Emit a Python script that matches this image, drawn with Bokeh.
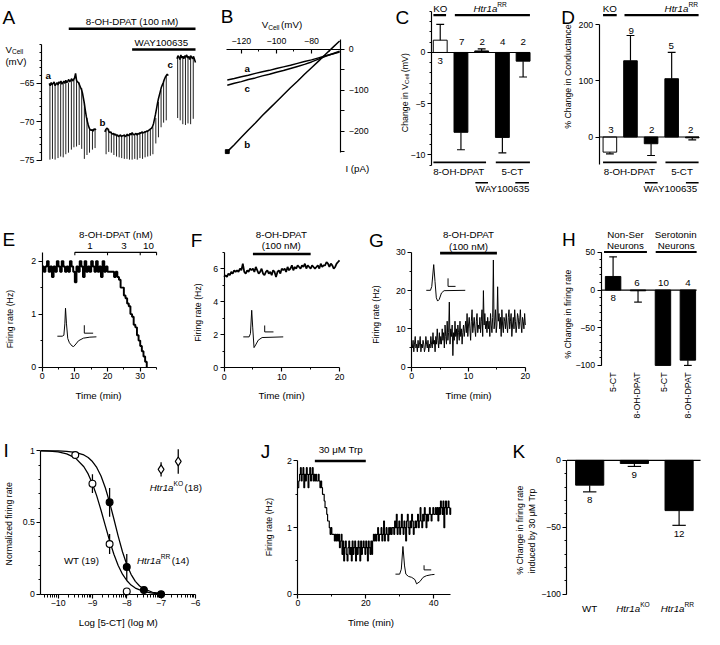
import numpy as np
from math import pi, sin, cos, log10
from bokeh.plotting import figure
from bokeh.models import Range1d, LinearAxis, FixedTicker, Grid
from bokeh.core.properties import value
from bokeh.embed import file_html
from bokeh.resources import INLINE

S = 0.975
W, H = 702, 629
XMAX, YMAX = W / S, H / S
FONT = "Liberation Sans"

# ======================= DATA =======================
# A: membrane potential (mV), one sample per time unit
A_v1 = [-65.0, -65.3, -64.9, -65.2, -65.0, -64.8, -65.3, -65.1, -64.9, -65.2,
        -64.8, -65.0, -64.7, -65.1, -64.9, -64.7, -65.0, -64.6, -64.9, -64.7,
        -64.5, -64.8, -64.6, -64.4, -64.7, -64.5, -64.3, -63.7, -64.6, -64.8,
        -64.9, -65.2, -65.5, -65.8, -66.2, -66.9, -67.6, -68.5, -69.3, -69.9,
        -70.4, -70.8, -71.0, -71.1, -71.0, -71.2, -70.9, -71.0, -70.9]
A_t1_start = 0
A_v2 = [-71.3, -71.0, -70.8, -70.9, -71.2, -71.4, -71.3, -71.5, -71.6, -71.5,
        -71.7, -71.6, -71.8, -71.7, -71.9, -71.8, -71.7, -71.9, -71.8, -71.8,
        -71.7, -71.9, -71.8, -71.6, -71.8, -71.7, -71.5, -71.7, -71.4, -71.6,
        -71.7, -71.6, -71.5, -71.7, -71.5, -71.6, -71.4, -71.5, -71.3, -71.4,
        -71.4, -71.3, -71.3, -71.2, -71.2, -71.1, -71.0, -70.9, -70.8, -70.6,
        -70.2, -69.6, -69.0, -68.3, -67.6, -67.0, -66.5, -66.0, -65.5, -65.2,
        -64.9, -64.5, -64.2, -64.0, -63.8, -64.0]
A_t2_start = 57
A_v3 = [-61.8, -61.4, -61.6, -61.9, -61.3, -61.7, -61.5, -61.8, -61.4, -61.6,
        -61.3, -61.7, -61.5, -61.9, -61.4, -61.6, -61.8, -61.5, -61.9, -62.3]
A_t3_start = 131
A_spike_t = [0.7, 3.3, 6, 9, 11.7, 14.3, 17, 19.7, 22.7, 25.3, 28, 30.7, 33.3, 36, 38.7, 41.3, 44.3, 47,
             58.3, 61, 63.7, 66.3, 69, 71.7, 74.3, 77, 79.7, 82.3, 85, 87.7, 90.3, 93, 95.7, 98.3, 101,
             103.7, 106.3, 109.3, 112, 114.7, 117.3, 120,
             131.7, 134.3, 137, 139.7, 142.3, 145, 147.7]
A_spike_top = [-65.1, -65.2, -65.2, -65.1, -65.0, -64.9, -64.8, -64.9, -64.6, -64.5, -64.7, -64.9, -65.6,
               -67.4, -69.5, -70.7, -71.0, -70.9,
               -71.0, -70.9, -71.3, -71.5, -71.7, -71.8, -71.8, -71.8, -71.8, -71.7, -71.6, -71.6, -71.6,
               -71.5, -71.4, -71.3, -71.2, -71.0, -70.7, -69.5, -67.4, -65.9, -64.8, -64.0,
               -61.6, -61.8, -61.6, -61.5, -61.6, -61.7, -61.6]
A_spike_bot = [-74.9, -74.8, -74.9, -74.7, -74.5, -74.6, -74.2, -74.0, -73.6, -73.3, -73.2, -73.0, -73.5,
               -74.8, -74.3, -74.0, -73.6, -73.4,
               -74.2, -73.9, -74.0, -74.3, -74.5, -74.6, -74.7, -74.8, -74.8, -74.9, -74.9, -74.8, -74.9,
               -74.7, -74.8, -74.6, -74.5, -74.4, -74.2, -72.8, -72.0, -70.7, -70.1, -69.8,
               -69.5, -69.8, -70.3, -70.4, -70.2, -70.3, -69.6]
A_dpat = [20, 150]
A_way = [85, 150]

# B: I-V relations (mV, pA)
B_v = [-128, -124, -120, -116, -112, -108, -104, -100, -96, -92, -88, -84, -80, -76, -72, -68, -64]
B_a = [-75, -71.5, -67, -63.5, -59, -55, -51.5, -47, -43, -39, -34.5, -30, -26, -21, -16, -11.5, -7]
B_c = [-88, -83, -79, -74, -70, -65, -61, -56, -52, -47, -42, -37, -31, -24, -17, -11, -5]
B_b = [-250, -233, -215, -197, -180, -162, -145, -128, -111, -94, -78, -61, -45, -29, -12, 4, 20]

# C: change in V_cell (mV)
C_n = ["3", "7", "2", "4", "2"]
C_val = [1.2, -7.8, 0.15, -8.3, -0.85]
C_err = [1.55, 1.7, 0.2, 1.5, 1.55]
C_fill = ["white", "black", "black", "black", "black"]

# D: % change in conductance
D_n = ["3", "9", "2", "5", "2"]
D_val = [-27, 136, -12, 104, -1.5]
D_err = [3, 45, 21, 47, 3.5]
D_fill = ["white", "black", "black", "black", "black"]

# E: firing rate (Hz), 0.5-min bins
E_rate = [1.9, 1.8, 1.9, 2.0, 1.8, 1.9, 1.7, 1.9, 1.8, 2.0,
          1.9, 1.8, 2.0, 1.9, 1.8, 1.9, 1.8, 2.0, 1.9, 1.8,
          1.6, 1.9, 1.8, 2.0, 1.9, 1.7, 2.0, 1.8, 1.9, 1.8,
          2.0, 1.9, 1.8, 2.0, 1.8, 1.9, 1.7, 2.0, 1.8, 1.9,
          1.8, 1.8, 1.8, 1.8, 1.7,
          1.8, 1.7, 1.65, 1.5, 1.5, 1.35, 1.3, 1.2, 1.15, 1.0,
          0.95, 0.8, 0.75, 0.6, 0.5, 0.4, 0.3, 0.2, 0.1, 0.0]
E_ins_t = [4.66, 6.15, 6.65, 6.95, 7.15, 7.45, 7.84, 8.34, 9.13, 9.63, 10.33, 11.12, 12.62, 14.6, 16.6]
E_ins_v = [0.583, 0.583, 0.601, 0.816, 1.111, 0.816, 0.540, 0.460, 0.399, 0.387, 0.436, 0.497, 0.546, 0.565, 0.571]
E_conc_edges = [10, 20, 30, 35]
E_conc = ["1", "3", "10"]

# F: firing rate (Hz), 0.25-min bins
F_rate = [5.5, 5.6, 5.5, 5.7, 5.6, 5.8, 5.7, 5.9, 5.8,
          5.9, 5.8, 6.0, 5.9, 6.3, 5.8, 5.7, 5.9, 5.8, 6.0, 5.9,
          6.0, 5.8, 6.1, 5.9, 5.7, 5.8, 6.0, 5.7, 5.6, 5.8, 5.9,
          5.7, 5.8, 5.6, 5.9, 5.8, 5.5, 5.8, 5.9, 5.7, 6.0, 5.9,
          6.0, 5.8, 6.1, 5.9, 6.0, 6.2, 5.9, 6.1, 6.0, 6.2, 6.1,
          6.0, 6.2, 6.1, 6.3, 6.0, 6.2, 6.1, 6.0, 6.2, 6.1, 6.0,
          6.1, 6.2, 6.0, 6.3, 6.1, 6.2, 6.2, 6.4, 6.3, 6.1, 6.3,
          6.2, 6.0, 6.1, 6.3, 6.4, 6.5]
F_ins_t = [3.33, 4.34, 4.57, 4.79, 4.96, 5.19, 5.47, 5.92, 6.59, 10.25]
F_ins_v = [1.87, 1.87, 2.07, 3.48, 2.46, 1.22, 1.38, 1.67, 1.83, 1.87]

# G: firing rate (Hz), 0.125-min bins
G_rate = [6, 5, 7, 4, 6, 8, 5, 6, 4, 7, 5, 6, 8, 4, 6, 5, 7, 6, 4, 5, 8, 6, 5, 7, 4, 6, 5, 8, 6,
          5, 9, 6, 7, 4, 8, 6, 10, 7, 5, 9, 6,
          8, 6, 10, 7, 9, 5, 11, 8, 6, 12, 7, 9, 17, 6, 10, 8, 11, 3, 9, 7,
          12, 8, 10, 6, 11, 9, 7, 12, 8, 10, 6, 9, 11, 8,
          10, 12, 9, 14, 8, 11, 13, 10, 7, 12, 15, 9, 11, 13, 10, 8, 12, 14, 9, 11,
          10, 13, 9, 12, 15, 8, 20, 11, 14, 10, 12, 9, 13, 10, 12, 8, 14, 11, 9, 13,
          28, 10, 12, 15, 9, 11,
          21, 12, 14, 10, 13, 8, 15, 11, 9, 13, 12, 10, 14, 11, 9, 13, 15, 10, 12, 14,
          8, 11, 13, 10, 15, 12, 9, 11, 14, 13, 10, 12, 15, 11, 9, 13, 12, 10, 14, 11]
G_ins_t = [2.57, 3.31, 3.54, 3.88, 4.11, 4.34, 4.57, 4.85, 5.25, 5.71, 9.43]
G_ins_v = [20.07, 20.07, 21.09, 26.79, 22.36, 18.11, 17.26, 17.69, 19.39, 19.98, 20.07]

# H: % change in firing rate
H_lab = ["5-CT", "8-OH-DPAT", "5-CT", "8-OH-DPAT"]
H_n = ["8", "6", "10", "4"]
H_val = [18, -1, -100, -93]
H_err = [26, 15, 0, 7]

# I: concentration-response
I_wt_x = [-9.5, -9.0, -8.5, -8.0]
I_wt_y = [0.97, 0.77, 0.35, 0.02]
I_wt_e = [0.0, 0.065, 0.07, 0.0]
I_rr_x = [-8.5, -8.0, -7.5, -7.0]
I_rr_y = [0.64, 0.19, 0.03, 0.0]
I_rr_e = [0.10, 0.09, 0.0, 0.0]
I_ko_x = [-7.0, -6.5]
I_ko_y = [0.87, 0.925]
I_ko_e = [0.05, 0.085]
I_wt_fit_x = [-10.5, -10.25, -10, -9.75, -9.5, -9.25, -9.125, -9, -8.875, -8.75, -8.625, -8.5,
              -8.375, -8.25, -8.125, -8, -7.875, -7.75, -7.5, -7.25, -7]
I_wt_fit_y = [0.998, 0.996, 0.991, 0.978, 0.950, 0.888, 0.838, 0.770, 0.685, 0.585, 0.478, 0.373,
              0.279, 0.201, 0.140, 0.096, 0.064, 0.043, 0.0185, 0.008, 0.003]
I_rr_fit_x = [-10.5, -10.25, -10, -9.75, -9.5, -9.25, -9.125, -9, -8.875, -8.75, -8.625, -8.5,
              -8.375, -8.25, -8.125, -8, -7.875, -7.75, -7.625, -7.5, -7.25, -7]
I_rr_fit_y = [1.0, 0.999, 0.998, 0.995, 0.988, 0.970, 0.952, 0.924, 0.883, 0.823, 0.742, 0.640,
              0.524, 0.405, 0.296, 0.207, 0.139, 0.090, 0.058, 0.037, 0.014, 0.006]

# J: firing rate (Hz), 0.25-min bins
J_rate = [1.6, 1.7, 1.8, 1.9, 1.7, 1.8, 1.9, 1.6, 1.8, 1.7, 1.9, 1.8, 1.6, 1.8, 1.9, 1.7, 1.8, 1.9, 1.7, 1.8,
          1.7, 1.8, 1.7, 1.7, 1.8, 1.7, 1.6, 1.7,
          1.6, 1.5, 1.5, 1.4, 1.3, 1.3, 1.2, 1.1, 1.1, 1.0, 0.9, 1.0, 0.9, 0.9, 0.9, 0.8,
          0.9, 0.8, 0.9, 0.8, 0.9, 0.7, 0.8, 0.9,
          0.6, 0.8, 0.5, 0.7, 0.8, 0.6, 0.5, 0.7, 0.8, 0.6, 0.7, 0.5, 0.8, 0.6, 0.7, 0.8, 0.5, 0.7,
          0.6, 0.8, 0.7, 0.5, 0.8, 0.6, 0.7, 0.8, 0.7, 0.6, 0.8, 0.7, 0.5, 0.8, 0.7, 0.6, 0.8, 0.6,
          0.8, 0.9, 0.8, 0.9, 0.8, 0.9, 1.0, 0.8, 0.9, 0.9, 1.0, 0.8, 0.9, 1.1, 0.8, 0.9, 1.0, 0.9,
          0.8, 1.0, 0.9, 1.0, 0.9, 1.0,
          1.0, 0.9, 1.1, 1.0, 1.2, 0.9, 1.0, 1.1, 0.9, 1.0, 1.2, 1.0, 0.9, 1.1, 1.0, 0.8, 1.1, 1.2,
          1.0, 0.9, 1.1, 1.0, 1.2, 1.1, 0.9, 1.0, 1.1, 1.0,
          1.1, 1.2, 1.0, 1.1, 1.3, 1.1, 1.0, 1.2, 1.1, 1.3, 1.2, 1.0, 1.2, 1.1, 1.2, 1.3, 1.2, 1.1,
          1.2, 1.3, 1.2, 1.2, 1.3, 1.2, 1.3, 1.1, 1.3, 1.2, 1.4, 1.3, 1.2, 1.4, 1.0, 1.3, 1.4, 1.2,
          1.3, 1.4, 1.3, 1.2, 1.3]
J_ins_t = [28.74, 29.98, 30.46, 30.94, 31.42, 31.8, 32.57, 33.52, 34.48, 34.96, 35.92, 36.88, 37.84, 39.27, 40.23]
J_ins_v = [0.302, 0.302, 0.376, 0.717, 0.425, 0.302, 0.268, 0.254, 0.220, 0.156, 0.190, 0.254, 0.278, 0.293, 0.298]
J_trp = [5, 20]

# K: % change in firing rate by 30 uM Trp
K_n = ["8", "9", "12"]
K_val = [-18.5, -2.3, -37.5]
K_err = [5, 2.2, 11]

# ======================= FIGURE =======================
p = figure(width=W, height=H, x_range=Range1d(0, XMAX), y_range=Range1d(YMAX, 0),
           output_backend="svg", toolbar_location=None, min_border=0,
           x_axis_location=None, y_axis_location=None, title=None)
p.center = [r for r in p.center if not isinstance(r, Grid)]
p.outline_line_color = None
p.background_fill_color = "white"
p.border_fill_color = "white"


def xr_(p0, v0, p1, v1):
    k = (v1 - v0) / (p1 - p0)
    return Range1d(start=v0 - p0 * k, end=v0 + (XMAX - p0) * k)


def yr_(p0, v0, p1, v1):
    k = (v1 - v0) / (p1 - p0)
    return Range1d(start=v0 + (YMAX - p0) * k, end=v0 - p0 * k)


XR, YR = {}, {}
for name, xa, ya in [
    ("A", (50, 0, 200, 150), (85, -65, 164, -75)),
    ("B", (247, -120, 319, -80), (50, 0, 134, -200)),
    ("C", (451, 1, 536, 5), (53.3, 0, 158.3, -10)),
    ("D", (625, 1, 709.5, 5), (140, 0, 25, 200)),
    ("E", (42.7, 0, 143.3, 30), (376, 0, 267.3, 2)),
    ("F", (229.3, 0, 347.7, 20), (376.7, 0, 275, 6)),
    ("G", (421.7, 0, 538.3, 20), (376, 0, 258.3, 30)),
    ("H", (628.3, 1, 705, 4), (258.3, 50, 374.3, -100)),
    ("I", (94.3, -9, 164.7, -7), (461.7, 1, 609, 0)),
    ("J", (305, 0, 444.3, 40), (609, 0, 472.3, 2)),
    ("K", (604.3, 1, 696, 3), (471.7, 0, 609, -100)),
]:
    XR[name] = xr_(*xa)
    YR[name] = yr_(*ya)
p.extra_x_ranges = XR
p.extra_y_ranges = YR


def rn(name):
    return dict(x_range_name=name, y_range_name=name)


def add_axis(name, side, loc, bounds, ticks, minor, tout=4, mout=2, tin=0, min_=0, standoff=2, fsize=9):
    ax = LinearAxis(x_range_name=name, y_range_name=name, fixed_location=loc, bounds=bounds,
                    ticker=FixedTicker(ticks=ticks, minor_ticks=minor))
    ax.axis_line_width = 1.2 * S
    ax.axis_line_color = "black"
    ax.major_tick_line_width = 1.2 * S
    ax.major_tick_line_color = "black"
    ax.minor_tick_line_width = 1.0 * S
    ax.minor_tick_line_color = "black"
    ax.major_tick_out = int(round(tout * S))
    ax.major_tick_in = int(round(tin * S))
    ax.minor_tick_out = int(round(mout * S))
    ax.minor_tick_in = int(round(min_ * S))
    ax.major_label_standoff = standoff
    ax.major_label_text_font = FONT
    ax.major_label_text_font_size = f"{fsize * S:.2f}px"
    ax.major_label_text_color = "black"
    p.add_layout(ax, side)
    return ax


AW = {' ': 278, '!': 278, '%': 889, '(': 333, ')': 333, '-': 333, '.': 278, '[': 278, ']': 278, 'μ': 576,
      'A': 667, 'B': 667, 'C': 722, 'D': 722, 'E': 667, 'F': 611, 'G': 778, 'H': 722, 'I': 278, 'J': 500,
      'K': 667, 'L': 556, 'M': 833, 'N': 722, 'O': 778, 'P': 667, 'Q': 778, 'R': 722, 'S': 667, 'T': 611,
      'U': 722, 'V': 667, 'W': 944, 'X': 667, 'Y': 667, 'Z': 611,
      'a': 556, 'b': 556, 'c': 500, 'd': 556, 'e': 556, 'f': 278, 'g': 556, 'h': 556, 'i': 222, 'j': 222,
      'k': 500, 'l': 222, 'm': 833, 'n': 556, 'o': 556, 'p': 556, 'q': 556, 'r': 333, 's': 500, 't': 278,
      'u': 556, 'v': 500, 'w': 722, 'x': 500, 'y': 500, 'z': 500}


def tw(s, size):
    return sum(AW.get(c, 556) for c in s) * size / 1000.0


STY = {"n": "normal", "i": "italic", "b": "bold", "sup": "normal", "sub": "normal"}


def put(x, y, parts, size=10, align="center", angle=0.0, style="n", baseline="middle"):
    if isinstance(parts, str):
        parts = [(parts, style)]
    if len(parts) == 1 and parts[0][1] not in ("sup", "sub"):
        t, k = parts[0]
        p.text(x=[x], y=[y], text=[t], angle=angle, text_align=align, text_baseline=baseline,
               text_font=value(FONT), text_font_size=value(f"{size * S:.2f}px"),
               text_font_style=STY[k], text_color="black")
        return
    sizes = [size * 0.68 if k in ("sup", "sub") else size for _, k in parts]
    widths = [tw(t, sz) + (1.5 if k in ("sup", "sub") else 0.0) for (t, k), sz in zip(parts, sizes)]
    total = sum(widths)
    pos = {"left": 0.0, "center": -total / 2.0, "right": -total}[align]
    dx, dy = cos(angle), -sin(angle)
    ux, uy = -sin(angle), -cos(angle)
    for (t, k), sz, w in zip(parts, sizes, widths):
        off = 0.36 * size if k == "sup" else (-0.24 * size if k == "sub" else 0.0)
        p.text(x=[x + dx * pos + ux * off], y=[y + dy * pos + uy * off], text=[t],
               angle=angle, text_align="left", text_baseline=baseline,
               text_font=value(FONT), text_font_size=value(f"{sz * S:.2f}px"),
               text_font_style=STY[k], text_color="black")
        pos += w


def hline(x0, x1, y, w=2.0):
    p.segment(x0=[x0], y0=[y], x1=[x1], y1=[y], line_color="black", line_width=w * S)


def bars(name, vals, errs, fills, width, cap):
    xs = list(range(1, len(vals) + 1))
    p.vbar(x=xs, bottom=0, top=vals, width=width, fill_color=fills, line_color="black",
           line_width=1.0 * S, **rn(name))
    ex, e0, e1 = [], [], []
    for x, v, e in zip(xs, vals, errs):
        if e > 0:
            sgn = 1 if v >= 0 else -1
            ex.append(x)
            e0.append(v)
            e1.append(v + sgn * e)
    p.segment(x0=ex, y0=e0, x1=ex, y1=e1, line_color="black", line_width=1.2 * S, **rn(name))
    p.segment(x0=[x - cap / 2 for x in ex], y0=e1, x1=[x + cap / 2 for x in ex], y1=e1,
              line_color="black", line_width=1.2 * S, **rn(name))


LW = 1.2 * S

# ---------------- Panel letters ----------------
for lx, ly, L in [(2, 17, "A"), (226, 16, "B"), (405, 17, "C"), (575, 17, "D"),
                  (2, 245, "E"), (195, 246, "F"), (378, 246, "G"), (576, 245, "H"),
                  (3, 462, "I"), (267, 463, "J"), (525, 463, "K")]:
    put(lx, ly, L, size=19.5, align="left", baseline="alphabetic")

# ---------------- A ----------------
add_axis("A", "left", -8, (-75, -60), [-75, -70, -65], list(range(-75, -59)), tout=5, mout=2.5)
for vals, t0 in [(A_v1, A_t1_start), (A_v2, A_t2_start), (A_v3, A_t3_start)]:
    p.line(x=list(np.arange(len(vals)) + t0), y=vals, line_color="black", line_width=1.6 * S, **rn("A"))
p.segment(x0=A_spike_t, y0=A_spike_top, x1=A_spike_t, y1=A_spike_bot, line_color="black",
          line_width=0.9 * S, **rn("A"))
p.segment(x0=[A_dpat[0]], y0=[-57.9], x1=[A_dpat[1]], y1=[-57.9], line_color="black", line_width=2.6 * S, **rn("A"))
p.segment(x0=[A_way[0]], y0=[-60.6], x1=[A_way[1]], y1=[-60.6], line_color="black", line_width=2.6 * S, **rn("A"))
put(135, 22, "8-OH-DPAT (100 nM)")
put(165, 43, "WAY100635")
put(5, 50, [("V", "n"), ("Cell", "sub")], align="left")
put(5, 62.5, "(mV)", align="left")
put(49, 76.5, "a", style="b")
put(104.5, 125, "b", style="b")
put(174, 65.5, "c", style="b")

# ---------------- B ----------------
add_axis("B", "above", 0, (-128.3, -63.3), [-120, -100, -80], [-120, -110, -100, -90, -80, -70],
         tout=0, mout=0, tin=4, min_=2.5, standoff=5)
add_axis("B", "right", -63.3, (-252, 24), [-200, -100, 0], [-250, -150, -50], tout=4, mout=4, standoff=4)
for tr in (B_a, B_c, B_b):
    p.line(x=B_v, y=tr, line_color="black", line_width=1.5 * S, **rn("B"))
p.scatter(x=[B_v[0]], y=[B_b[0]], marker="square", size=4 * S, fill_color="black", line_color="black", **rn("B"))
put(290, 25, [("V", "n"), ("Cell", "sub"), (" (mV)", "n")])
put(253, 70, "a", style="b")
put(253, 90, "c", style="b")
put(253, 148, "b", style="b")
put(366, 172, "I (pA)")

# ---------------- C ----------------
add_axis("C", "left", 0.576, (-11, 4), [-10, -5, 0], list(range(-11, 5)), tout=4, mout=2.5)
bars("C", C_val, C_err, C_fill, 0.67, 0.38)
p.segment(x0=[0.576], y0=[0], x1=[5.33], y1=[0], line_color="black", line_width=LW, **rn("C"))
put(451, 8, "KO")
put(503, 8, [("Htr1a", "i"), ("RR", "sup")])
hline(444, 457, 15, 2.3)
hline(466, 543, 15, 2.3)
for (nx, ny), t in zip([(451, 62), (473, 43), (494, 43), (515, 43), (536, 43)], C_n):
    put(nx, ny, t)
hline(444, 498, 166, 2.0)
hline(508, 543, 166, 2.0)
put(470, 175, "8-OH-DPAT")
put(525, 175, "5-CT")
put(515, 193, "WAY100635")
hline(487, 500, 187, 1.5)
hline(528, 542, 187, 1.5)
put(415, 93.3, [("Change in V", "n"), ("Cell", "sub"), (" (mV)", "n")], size=9, angle=pi / 2)

# ---------------- D ----------------
add_axis("D", "left", 0.48, (-49, 200), [0, 100, 200], [], tout=4)
bars("D", D_val, D_err, D_fill, 0.66, 0.38)
p.segment(x0=[0.48], y0=[0], x1=[5.33], y1=[0], line_color="black", line_width=LW, **rn("D"))
put(625, 8, "KO")
put(699, 8, [("Htr1a", "i"), ("RR", "sup")])
hline(618, 632, 15, 2.3)
hline(640, 716, 15, 2.3)
for (nx, ny), t in zip([(626, 133), (647, 31), (668, 133), (688, 47), (708, 133)], D_n):
    put(nx, ny, t)
hline(618, 673, 166, 2.0)
hline(682, 716, 166, 2.0)
put(645, 175, "8-OH-DPAT")
put(699, 175, "5-CT")
put(687, 193, "WAY100635")
hline(661, 674, 187, 1.5)
hline(703, 716, 187, 1.5)
put(582, 78, "% Change in Conductance", size=9, angle=pi / 2)

# ---------------- E ----------------
add_axis("E", "left", 0, (0, 2.17), [0, 1, 2], [0.5, 1.5])
add_axis("E", "below", 0, (0, 35), [0, 10, 20, 30], [5, 15, 25, 35])
p.step(x=list(np.arange(len(E_rate)) * 0.5), y=E_rate, mode="after", line_color="black",
       line_width=2.0 * S, **rn("E"))
p.line(x=E_ins_t, y=E_ins_v, line_color="black", line_width=1.0 * S, **rn("E"))
p.line(x=[12.9, 12.9, 15.6], y=[0.79, 0.64, 0.64], line_color="black", line_width=1.0 * S, **rn("E"))
p.segment(x0=[E_conc_edges[0]], y0=[2.166], x1=[E_conc_edges[-1]], y1=[2.166], line_color="black",
          line_width=1.3 * S, **rn("E"))
p.segment(x0=E_conc_edges, y0=[2.166] * 4, x1=E_conc_edges, y1=[2.11] * 4, line_color="black",
          line_width=1.1 * S, **rn("E"))
put(118.5, 240, "8-OH-DPAT (nM)")
for cx, t in zip([91.7, 126.7, 151.7], E_conc):
    put(cx, 251.7, t)
put(10, 326.7, "Firing rate (Hz)", size=9, angle=pi / 2)
put(100.5, 405, "Time (min)")

# ---------------- F ----------------
add_axis("F", "left", 0, (0, 7), [0, 2, 4, 6], [1, 3, 5, 7])
add_axis("F", "below", 0, (0, 20), [0, 10, 20], [5, 15])
p.line(x=list(np.arange(len(F_rate)) * 0.25), y=F_rate, line_color="black", line_width=1.8 * S, **rn("F"))
p.line(x=F_ins_t, y=F_ins_v, line_color="black", line_width=1.0 * S, **rn("F"))
p.line(x=[7.04, 7.04, 8.56], y=[2.56, 2.17, 2.17], line_color="black", line_width=1.0 * S, **rn("F"))
p.segment(x0=[5], y0=[6.88], x1=[15], y1=[6.88], line_color="black", line_width=2.6 * S, **rn("F"))
put(288, 240, "8-OH-DPAT")
put(288, 251.5, "(100 nM)")
put(203, 320, "Firing rate (Hz)", size=9, angle=pi / 2)
put(288.3, 405, "Time (min)")

# ---------------- G ----------------
add_axis("G", "left", 0, (0, 30), [0, 10, 20, 30], [5, 15, 25])
add_axis("G", "below", 0, (0, 20), [0, 10, 20], [5, 15])
p.line(x=list(np.arange(len(G_rate)) * 0.125), y=G_rate, line_color="black", line_width=1.0 * S, **rn("G"))
p.line(x=G_ins_t, y=G_ins_v, line_color="black", line_width=1.0 * S, **rn("G"))
p.line(x=[6.40, 6.40, 7.72], y=[23.2, 21.1, 21.1], line_color="black", line_width=1.0 * S, **rn("G"))
p.segment(x0=[5], y0=[29.8], x1=[15], y1=[29.8], line_color="black", line_width=2.6 * S, **rn("G"))
put(480, 240, "8-OH-DPAT")
put(480, 252.5, "(100 nM)")
put(385, 322, "Firing rate (Hz)", size=9, angle=pi / 2)
put(480, 405, "Time (min)")

# ---------------- H ----------------
add_axis("H", "left", 0.52, (-100, 50), [-100, -50, 0, 50], list(range(-100, 51, 10)), tout=4, mout=2.5)
bars("H", H_val, H_err, ["black"] * 4, 0.62, 0.31)
p.segment(x0=[0.52], y0=[0], x1=[4.35], y1=[0], line_color="black", line_width=LW, **rn("H"))
put(641, 240, "Non-Ser")
put(641, 251.7, "Neurons")
put(692.5, 240, "Serotonin")
put(693, 251.7, "Neurons")
hline(619, 663, 258, 2.0)
hline(672, 714, 258, 2.0)
for (nx, ny), t in zip([(628.3, 305.5), (652.7, 290), (680, 290), (705, 290)], H_n):
    put(nx, ny, t)
for lx, t in zip([628.3, 652.7, 680, 705], H_lab):
    put(lx, 381.5, t, size=9, align="right", angle=pi / 2)
put(581.7, 321.7, "% Change in firing rate", size=9, angle=pi / 2)

# ---------------- I ----------------
I_minor = [d + log10(k) for d in range(-11, -6) for k in range(2, 10) if -10.5 <= d + log10(k) <= -6]
add_axis("I", "left", -10.5, (0, 1), [0, 0.5, 1.0], [0.1, 0.2, 0.3, 0.4, 0.6, 0.7, 0.8, 0.9], tout=4, mout=2.5)
add_axis("I", "below", 0, (-10.5, -6), [-10, -9, -8, -7, -6], I_minor, tout=4, mout=3)
p.line(x=I_wt_fit_x, y=I_wt_fit_y, line_color="black", line_width=1.3 * S, **rn("I"))
p.line(x=I_rr_fit_x, y=I_rr_fit_y, line_color="black", line_width=1.3 * S, **rn("I"))
for xs, ys, es in [(I_wt_x, I_wt_y, I_wt_e), (I_rr_x, I_rr_y, I_rr_e), (I_ko_x, I_ko_y, I_ko_e)]:
    sel = [i for i, e in enumerate(es) if e > 0]
    p.segment(x0=[xs[i] for i in sel], y0=[ys[i] - es[i] for i in sel],
              x1=[xs[i] for i in sel], y1=[ys[i] + es[i] for i in sel],
              line_color="black", line_width=1.3 * S, **rn("I"))
p.scatter(x=I_wt_x, y=I_wt_y, marker="circle", size=7 * S, fill_color="white", line_color="black",
          line_width=1.2 * S, **rn("I"))
p.scatter(x=I_rr_x, y=I_rr_y, marker="circle", size=7 * S, fill_color="black", line_color="black",
          line_width=1.2 * S, **rn("I"))
p.scatter(x=I_ko_x, y=I_ko_y, marker="diamond", size=9 * S, fill_color="white", line_color="black",
          line_width=1.2 * S, **rn("I"))
put(153, 499, [("Htr1a", "i"), ("KO", "sup"), (" (18)", "n")], align="left")
put(65, 574, "WT  (19)", align="left")
put(140, 574, [("Htr1a", "i"), ("RR", "sup"), (" (14)", "n")], align="left")
put(8.3, 536.7, "Normalized firing rate", size=9, angle=pi / 2)
put(120.8, 638, "Log [5-CT] (log M)")

# ---------------- J ----------------
add_axis("J", "left", 0, (0, 2), [0, 1, 2], [0.5, 1.5])
add_axis("J", "below", 0, (0, 45), [0, 20, 40], [10, 30])
p.step(x=list(np.arange(len(J_rate)) * 0.25), y=J_rate, mode="after", line_color="black",
       line_width=1.2 * S, **rn("J"))
p.line(x=J_ins_t, y=J_ins_v, line_color="black", line_width=1.0 * S, **rn("J"))
p.line(x=[37.16, 37.16, 39.27], y=[0.435, 0.366, 0.366], line_color="black", line_width=1.0 * S, **rn("J"))
p.segment(x0=[J_trp[0]], y0=[2.0], x1=[J_trp[1]], y1=[2.0], line_color="black", line_width=2.6 * S, **rn("J"))
put(349, 460, "30 μM Trp")
put(275, 540, "Firing rate (Hz)", size=9, angle=pi / 2)
put(380, 638, "Time (min)")

# ---------------- K ----------------
add_axis("K", "left", 0.492, (-100, 0), [-100, -50, 0], list(range(-100, 1, 10)), tout=4, mout=2.5)
bars("K", K_val, K_err, ["black"] * 3, 0.63, 0.3)
p.segment(x0=[0.492], y0=[0], x1=[3.48], y1=[0], line_color="black", line_width=LW, **rn("K"))
for (nx, ny), t in zip([(604.3, 512.7), (650, 486.7), (696, 547.3)], K_n):
    put(nx, ny, t)
put(604.3, 623.5, "WT")
put(649.5, 623.5, [("Htr1a", "i"), ("KO", "sup")])
put(695, 623.5, [("Htr1a", "i"), ("RR", "sup")])
put(533.3, 543.3, "% Change in firing rate", size=9, angle=pi / 2)
put(545, 544, "induced by 30 μM Trp", size=9, angle=pi / 2)

open("out.html", "w").write(file_html(p, INLINE))
